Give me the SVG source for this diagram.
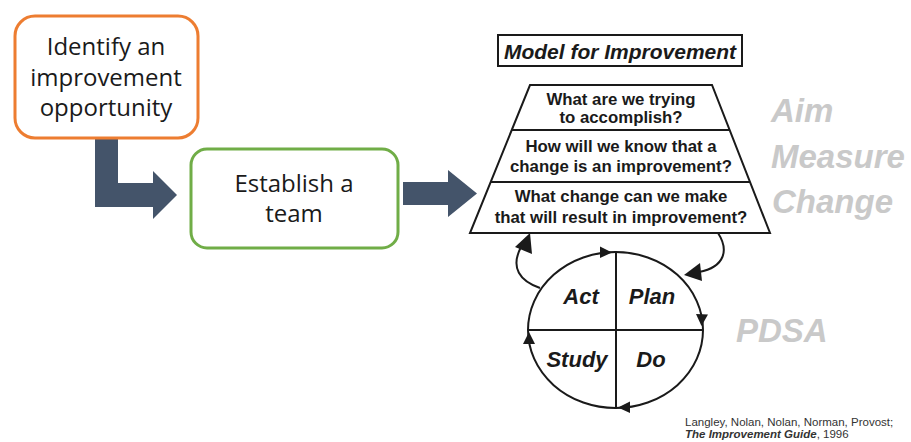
<svg xmlns="http://www.w3.org/2000/svg" width="911" height="442" viewBox="0 0 911 442">
<style>
.box{fill:#fff;stroke-width:3}
.big{font-family:"Open Sans","Noto Sans",sans-serif;font-size:24px;fill:#1a1a1a;text-anchor:middle}
.q{font-family:"Liberation Sans",Arial,sans-serif;font-weight:bold;font-size:16.8px;fill:#1a1a1a;text-anchor:middle}
.bi{font-family:"Liberation Sans",Arial,sans-serif;font-weight:bold;font-style:italic;fill:#1a1a1a;text-anchor:middle}
.gray{font-family:"Liberation Sans",Arial,sans-serif;font-weight:bold;font-style:italic;font-size:33px;fill:#c9c9c9}
.ln{fill:none;stroke:#1a1a1a;stroke-width:2}
.blk{fill:#1a1a1a}
.flow{fill:#44546a}
.cite{font-family:"Liberation Sans",Arial,sans-serif;font-size:11.5px;fill:#333}
</style>
<rect width="911" height="442" fill="#fff"/>
<g id="connectors">
  <path class="flow" d="M95,138 H118 V183 H153 V171 L177,195 L153,219 V207 H95 Z"/>
  <path class="flow" d="M403,182 H448 V170 L477,193.5 L448,217 V205 H403 Z"/>
  <path class="ln" stroke-width="2.5" d="M540,288 C520,281 510,268 521,247"/>
  <path class="blk" d="M530,233 L532,254 L515,247 Z"/>
  <path class="ln" stroke-width="2.5" d="M718,233 C729,250 725,267 699,272"/>
  <path class="blk" d="M684,275 L700,263 L702,281 Z"/>
</g>
<g id="node-identify">
  <rect class="box" x="15" y="16" width="183" height="122" rx="20" stroke="#ed7d31"/>
  <text class="big" x="106" y="55">Identify an</text>
  <text class="big" x="106" y="86">improvement</text>
  <text class="big" x="106" y="116">opportunity</text>
</g>
<g id="node-team">
  <rect class="box" x="191" y="149" width="207" height="99" rx="16" stroke="#70ad47"/>
  <text class="big" x="294" y="192">Establish a</text>
  <text class="big" x="294" y="222">team</text>
</g>
<g id="node-model-title">
  <rect x="498" y="35" width="244" height="31" fill="#fff" stroke="#1a1a1a" stroke-width="2"/>
  <text class="bi" x="620" y="58.5" font-size="21px">Model for Improvement</text>
</g>
<g id="node-questions">
  <path class="ln" d="M530,85 H712 L770,233 H470 Z" fill="#fff"/>
  <line class="ln" x1="512" y1="130" x2="730" y2="130"/>
  <line class="ln" x1="491" y1="182" x2="750" y2="182"/>
  <text class="q" x="621" y="105">What are we trying</text>
  <text class="q" x="621" y="123">to accomplish?</text>
  <text class="q" x="621" y="152">How will we know that a</text>
  <text class="q" x="621" y="172">change is an improvement?</text>
  <text class="q" x="621" y="202">What change can we make</text>
  <text class="q" x="621" y="223">that will result in improvement?</text>
</g>
<g id="node-labels">
  <text class="gray" x="771" y="122">Aim</text>
  <text class="gray" x="771" y="168">Measure</text>
  <text class="gray" x="772" y="213">Change</text>
  <text class="gray" x="736" y="342">PDSA</text>
</g>
<g id="node-pdsa">
  <ellipse class="ln" cx="615.5" cy="330" rx="87.5" ry="78"/>
  <line class="ln" x1="616" y1="252" x2="616" y2="408"/>
  <line class="ln" x1="528" y1="330" x2="703" y2="330"/>
  <path class="blk" d="M612,252.5 L600,246.5 L600,258 Z"/>
  <path class="blk" d="M701.5,326 L696,314 L708,314.5 Z"/>
  <path class="blk" d="M618,407.5 L630,401.5 L630,413 Z"/>
  <path class="blk" d="M529,332 L523,344 L535,344 Z"/>
  <text class="bi" x="581" y="304" font-size="22px">Act</text>
  <text class="bi" x="652" y="304" font-size="22px">Plan</text>
  <text class="bi" x="577" y="367" font-size="22px">Study</text>
  <text class="bi" x="651" y="367" font-size="22px">Do</text>
</g>
<g id="citation">
  <text class="cite" x="685" y="426">Langley, Nolan, Nolan, Norman, Provost;</text>
  <text class="cite" x="685" y="438"><tspan font-weight="bold" font-style="italic">The Improvement Guide</tspan>, 1996</text>
</g>
</svg>
